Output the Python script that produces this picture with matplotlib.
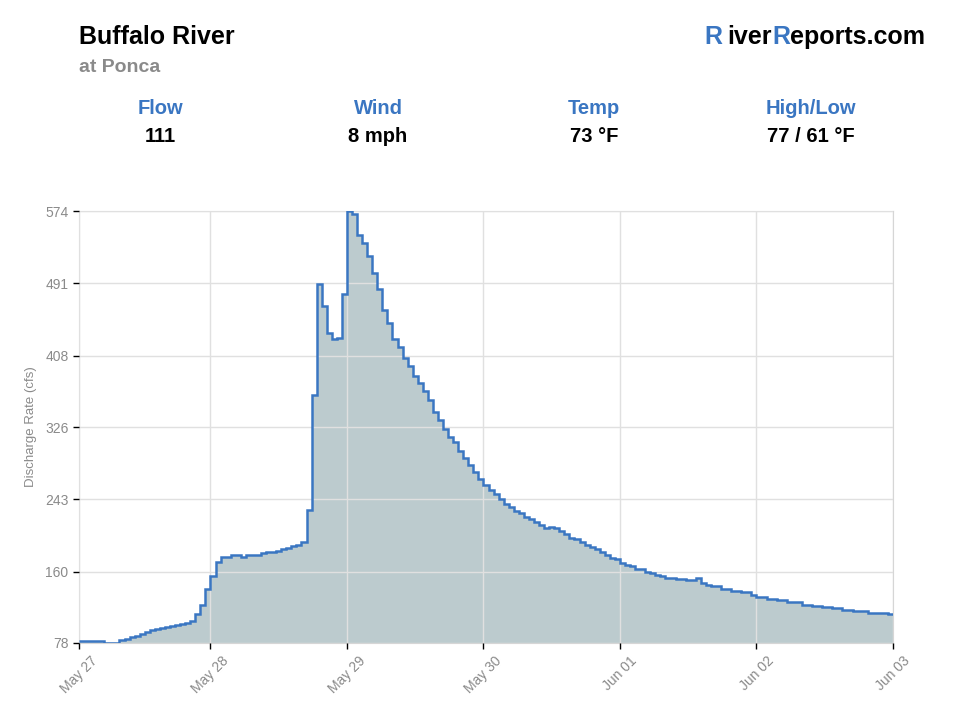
import numpy as np
import matplotlib
matplotlib.use("Agg")
import matplotlib.pyplot as plt

plt.rcParams['font.family'] = ['Liberation Sans', 'DejaVu Sans']

# discharge readings (cfs), one per step
may27 = [80, 80, 80, 80, 80, 78, 78, 78, 81, 83, 85, 86, 88, 91, 93, 94, 95, 96,
         98, 99, 100, 101, 103, 111, 122, 140]
may28 = [155, 171, 177, 177, 179, 179, 177, 179, 179, 179, 181, 182, 183, 184, 186,
         187, 189, 190, 194, 231, 363, 490, 465, 434, 427, 428, 479]
may29 = [574, 570, 547, 537, 522, 503, 484, 460, 445, 427, 418, 405, 396, 384, 376,
         367, 357, 343, 334, 324, 314, 309, 298, 290, 282, 274, 266]
may30 = [259, 254, 249, 243, 238, 234, 230, 227, 223, 220, 217, 214, 210, 211, 210,
         207, 203, 199, 197, 194, 191, 188, 186, 183, 179, 176, 174]
jun01 = [170, 168, 166, 163, 163, 160, 158, 156, 155, 153, 153, 152, 152, 150, 150,
         153, 147, 145, 143, 143, 140, 140, 138, 138, 136, 136, 133]
jun02 = [131, 131, 129, 129, 127, 127, 125, 125, 125, 122, 122, 121, 121, 119, 119,
         118, 118, 116, 116, 115, 115, 115, 113, 113, 113, 112, 111]
flow = may27 + may28 + may29 + may30 + jun01 + jun02

tick_labels = ['May 27', 'May 28', 'May 29', 'May 30', 'Jun 01', 'Jun 02', 'Jun 03']
tick_steps = [0, 26, 53, 80, 107, 134, 161]
y_ticks = [78, 160, 243, 326, 408, 491, 574]

stat_names = ['Flow', 'Wind', 'Temp', 'High/Low']
stat_values = ['111', '8 mph', '73 °F', '77 / 61 °F']

blue = '#3a76c2'
fill = '#bccbce'
grey = '#8a8a8a'

fig = plt.figure(figsize=(9.6, 7.2), dpi=100)
ax = fig.add_axes([79 / 960, 77 / 720, 814 / 960, 432 / 720])

edges = np.arange(len(flow) + 1)
ax.stairs(flow, edges, baseline=78, fill=True, color=fill, zorder=1)
ax.stairs(flow, edges, baseline=None, color=blue, linewidth=1.8, zorder=3)

ax.set_xlim(0, len(flow))
ax.set_ylim(78, 574)
ax.set_yticks(y_ticks)
ax.set_xticks(tick_steps)
ax.set_xticklabels(tick_labels, rotation=45, ha='center')
ax.tick_params(axis='both', colors='black', labelcolor=grey, labelsize=10, length=4, width=1)
ax.set_axisbelow(False)
ax.grid(True, color='#e0e0e0', linewidth=1, zorder=2)
for s in ax.spines.values():
    s.set_color('#d6d6d6')
ax.set_ylabel('Discharge Rate (cfs)', color=grey, fontsize=9.5, labelpad=6)

# header
fig.text(79 / 960, 1 - 37 / 720, 'Buffalo River', fontsize=18, fontweight='bold',
         va='center', ha='left')
fig.text(79 / 960, 1 - 68 / 720, 'at Ponca', fontsize=14, fontweight='bold',
         color=grey, va='center', ha='left')

# RiverReports.com with blue R's, built from the right edge
fig.canvas.draw()
renderer = fig.canvas.get_renderer()
x_right = 925 / 960
for piece, col, gap in [('eports.com', 'black', 0), ('R', blue, 0), ('iver', 'black', 0), ('R', blue, 5)]:
    x_right -= gap / 960
    t = fig.text(x_right, 1 - 37 / 720, piece, fontsize=18, fontweight='bold',
                 color=col, va='center', ha='right')
    bb = t.get_window_extent(renderer)
    x_right = bb.x0 / fig.bbox.width

stat_x = [160, 378, 594, 811]
for x, name, val in zip(stat_x, stat_names, stat_values):
    fig.text(x / 960, 1 - 109 / 720, name, fontsize=14.5, fontweight='bold',
             color=blue, ha='center', va='center')
    fig.text(x / 960, 1 - 137 / 720, val, fontsize=14.5, fontweight='bold',
             color='black', ha='center', va='center')

fig.savefig('out.png', dpi=100)
